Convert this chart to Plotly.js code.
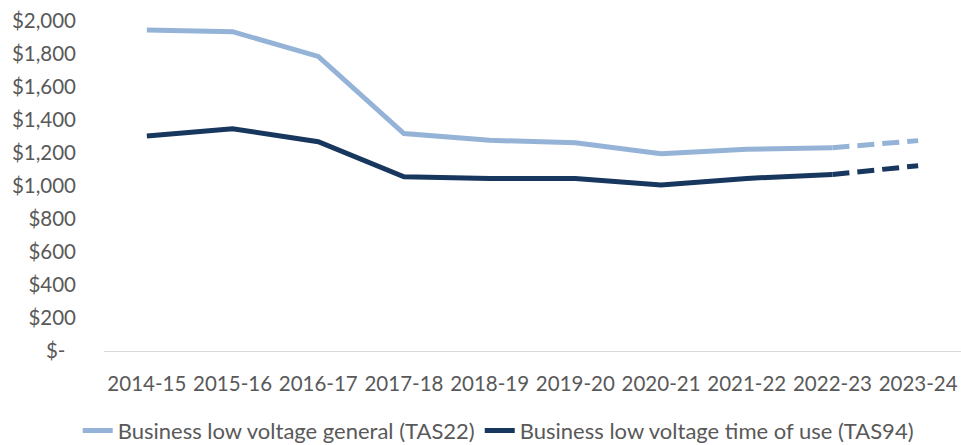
<!DOCTYPE html>
<html><head><meta charset="utf-8">
<script src="https://cdn.plot.ly/plotly-3.0.1.min.js"></script>
<style>html,body{margin:0;padding:0;background:#fff}#c{width:961px;height:445px}</style>
</head><body><div id="c"></div>
<script>
const categories = ["2014-15","2015-16","2016-17","2017-18","2018-19","2019-20","2020-21","2021-22","2022-23","2023-24"];
const generalTAS22 = [1945, 1935, 1785, 1318, 1277, 1262, 1195, 1223, 1232, 1275];
const touTAS94 = [1303, 1347, 1268, 1056, 1046, 1045, 1006, 1046, 1070, 1123];
const yTickVals = [0,200,400,600,800,1000,1200,1400,1600,1800,2000];
const yTickText = ["$-\u00a0\u00a0","$200","$400","$600","$800","$1,000","$1,200","$1,400","$1,600","$1,800","$2,000"];
const nActual = 9; // last point is a forecast (dashed)

const cLight = "#95B3D7", cDark = "#17375E";
const traces = [
  {x: categories.slice(0,nActual), y: generalTAS22.slice(0,nActual), name: "Business low voltage general (TAS22)",
   mode: "lines", line: {color: cLight, width: 5}},
  {x: categories.slice(nActual-1), y: generalTAS22.slice(nActual-1), showlegend: false,
   mode: "lines", line: {color: cLight, width: 5, dash: "17px,8px"}},
  {x: categories.slice(0,nActual), y: touTAS94.slice(0,nActual), name: "Business low voltage time of use (TAS94)",
   mode: "lines", line: {color: cDark, width: 5}},
  {x: categories.slice(nActual-1), y: touTAS94.slice(nActual-1), showlegend: false,
   mode: "lines", line: {color: cDark, width: 5, dash: "17px,8px"}}
];
const layout = {
  width: 961, height: 445,
  margin: {l: 104, r: 0, t: 21, b: 94},
  paper_bgcolor: "#fff", plot_bgcolor: "#fff",
  font: {family: "Lato, 'Open Sans', sans-serif", size: 20.5, color: "#595959"},
  showlegend: true,
  legend: {orientation: "h", x: 0.46, xanchor: "center", yref: "container", y: 0.032, yanchor: "middle",
           font: {size: 22, color: "#595959"}, tracegroupgap: 0, itemgap: 24},
  xaxis: {type: "category", range: [-0.5, 9.5], showgrid: false, zeroline: false, automargin: false,
          showline: true, linecolor: "#D9D9D9", linewidth: 1, ticks: "", ticklabelstandoff: 14, tickangle: 0,
          tickfont: {size: 20.5, color: "#595959"}, fixedrange: true},
  yaxis: {range: [0, 2000], tickvals: yTickVals, ticktext: yTickText, showgrid: false, zeroline: false, automargin: false,
          showline: false, ticks: "", ticklabelstandoff: 27, tickfont: {size: 20.5, color: "#595959"}, fixedrange: true}
};
Plotly.newPlot("c", traces, layout, {displayModeBar: false, staticPlot: true});
</script></body></html>
